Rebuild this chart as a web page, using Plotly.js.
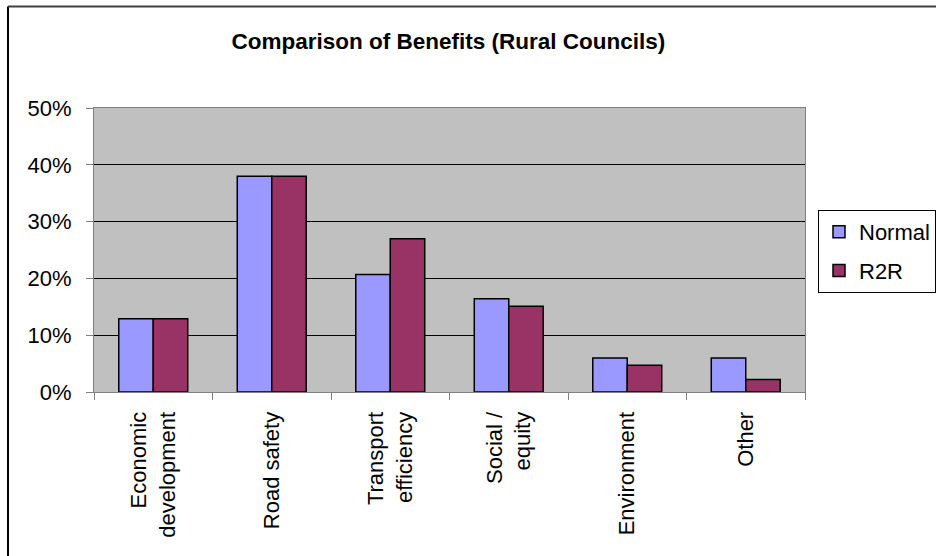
<!DOCTYPE html>
<html>
<head>
<meta charset="utf-8">
<script src="https://cdn.plot.ly/plotly-3.0.1.min.js"></script>
<style>
html,body{margin:0;padding:0;background:#fff;overflow:hidden;}
#chart{width:936px;height:556px;}
</style>
</head>
<body>
<div id="chart"></div>
<script>
const categories = ["Economic<br>development", "Road safety", "Transport<br>efficiency", "Social /<br>equity", "Environment", "Other"];
const normalValues = [0.129, 0.380, 0.207, 0.164, 0.060, 0.060];
const r2rValues = [0.129, 0.380, 0.270, 0.151, 0.047, 0.022];
const seriesNames = ["Normal", "R2R"];
const yTickValues = [0, 0.1, 0.2, 0.3, 0.4, 0.5];

const FONT = '"Liberation Sans", Arial, sans-serif';

const traces = [
  {
    type: 'bar', name: seriesNames[0], x: categories, y: normalValues,
    legendgroup: 'a',
    marker: {color: '#9999FF', line: {color: '#000000', width: 1.5}},
    hoverinfo: 'skip'
  },
  {
    type: 'bar', name: seriesNames[1], x: categories, y: r2rValues,
    legendgroup: 'b',
    marker: {color: '#993366', line: {color: '#000000', width: 1.5}},
    hoverinfo: 'skip'
  }
];

const L = 94, R = 131, T = 108, B = 164;
const W = 936, H = 556;
const pw = W - L - R, ph = H - T - B;
const px = v => (v - L) / pw;
const py = v => (H - B - v) / ph;

const layout = {
  width: W, height: H,
  margin: {l: L, r: R, t: T, b: B, autoexpand: false},
  paper_bgcolor: '#ffffff',
  plot_bgcolor: '#C0C0C0',
  font: {family: FONT, size: 22, color: '#000'},
  title: {
    text: '<b>Comparison of Benefits (Rural Councils)</b>',
    font: {family: FONT, size: 22.5, color: '#000'},
    xref: 'container', yref: 'container',
    x: 0.479, xanchor: 'center', y: 1 - 41/556, yanchor: 'middle'
  },
  barmode: 'group',
  bargap: 0.418,
  bargroupgap: 0,
  showlegend: true,
  legend: {
    x: px(818), xanchor: 'left', y: py(210), yanchor: 'top',
    bgcolor: '#ffffff', bordercolor: '#000000', borderwidth: 1,
    font: {family: FONT, size: 22, color: '#000'},
    traceorder: 'grouped', tracegroupgap: 7, itemwidth: 30
  },
  xaxis: {
    type: 'category',
    tickangle: -90,
    ticks: 'outside', ticklen: 7, tickcolor: '#808080', tickwidth: 1,
    tickson: 'boundaries',
    showline: true, linecolor: '#808080', linewidth: 1, mirror: true,
    showgrid: false,
    tickfont: {family: FONT, size: 22, color: '#000'},
    ticklabelstandoff: 10,
    fixedrange: true
  },
  yaxis: {
    range: [0, 0.5],
    tickvals: yTickValues,
    tickformat: '.0%',
    ticks: 'outside', ticklen: 7, tickcolor: '#808080', tickwidth: 1,
    showline: true, linecolor: '#808080', linewidth: 1, mirror: true,
    showgrid: true, gridcolor: '#000000', gridwidth: 1,
    zeroline: false,
    tickfont: {family: FONT, size: 22, color: '#000'},
    ticklabelstandoff: 10,
    fixedrange: true
  },
  shapes: [
    {type: 'line', xref: 'paper', yref: 'paper', x0: px(8), x1: px(8), y0: py(6.5), y1: py(570), line: {color: '#000000', width: 2}},
    {type: 'line', xref: 'paper', yref: 'paper', x0: px(8), x1: px(950), y0: py(6.5), y1: py(6.5), line: {color: '#404040', width: 2}}
  ]
};

Plotly.newPlot('chart', traces, layout, {displayModeBar: false, staticPlot: true});
</script>
</body>
</html>
